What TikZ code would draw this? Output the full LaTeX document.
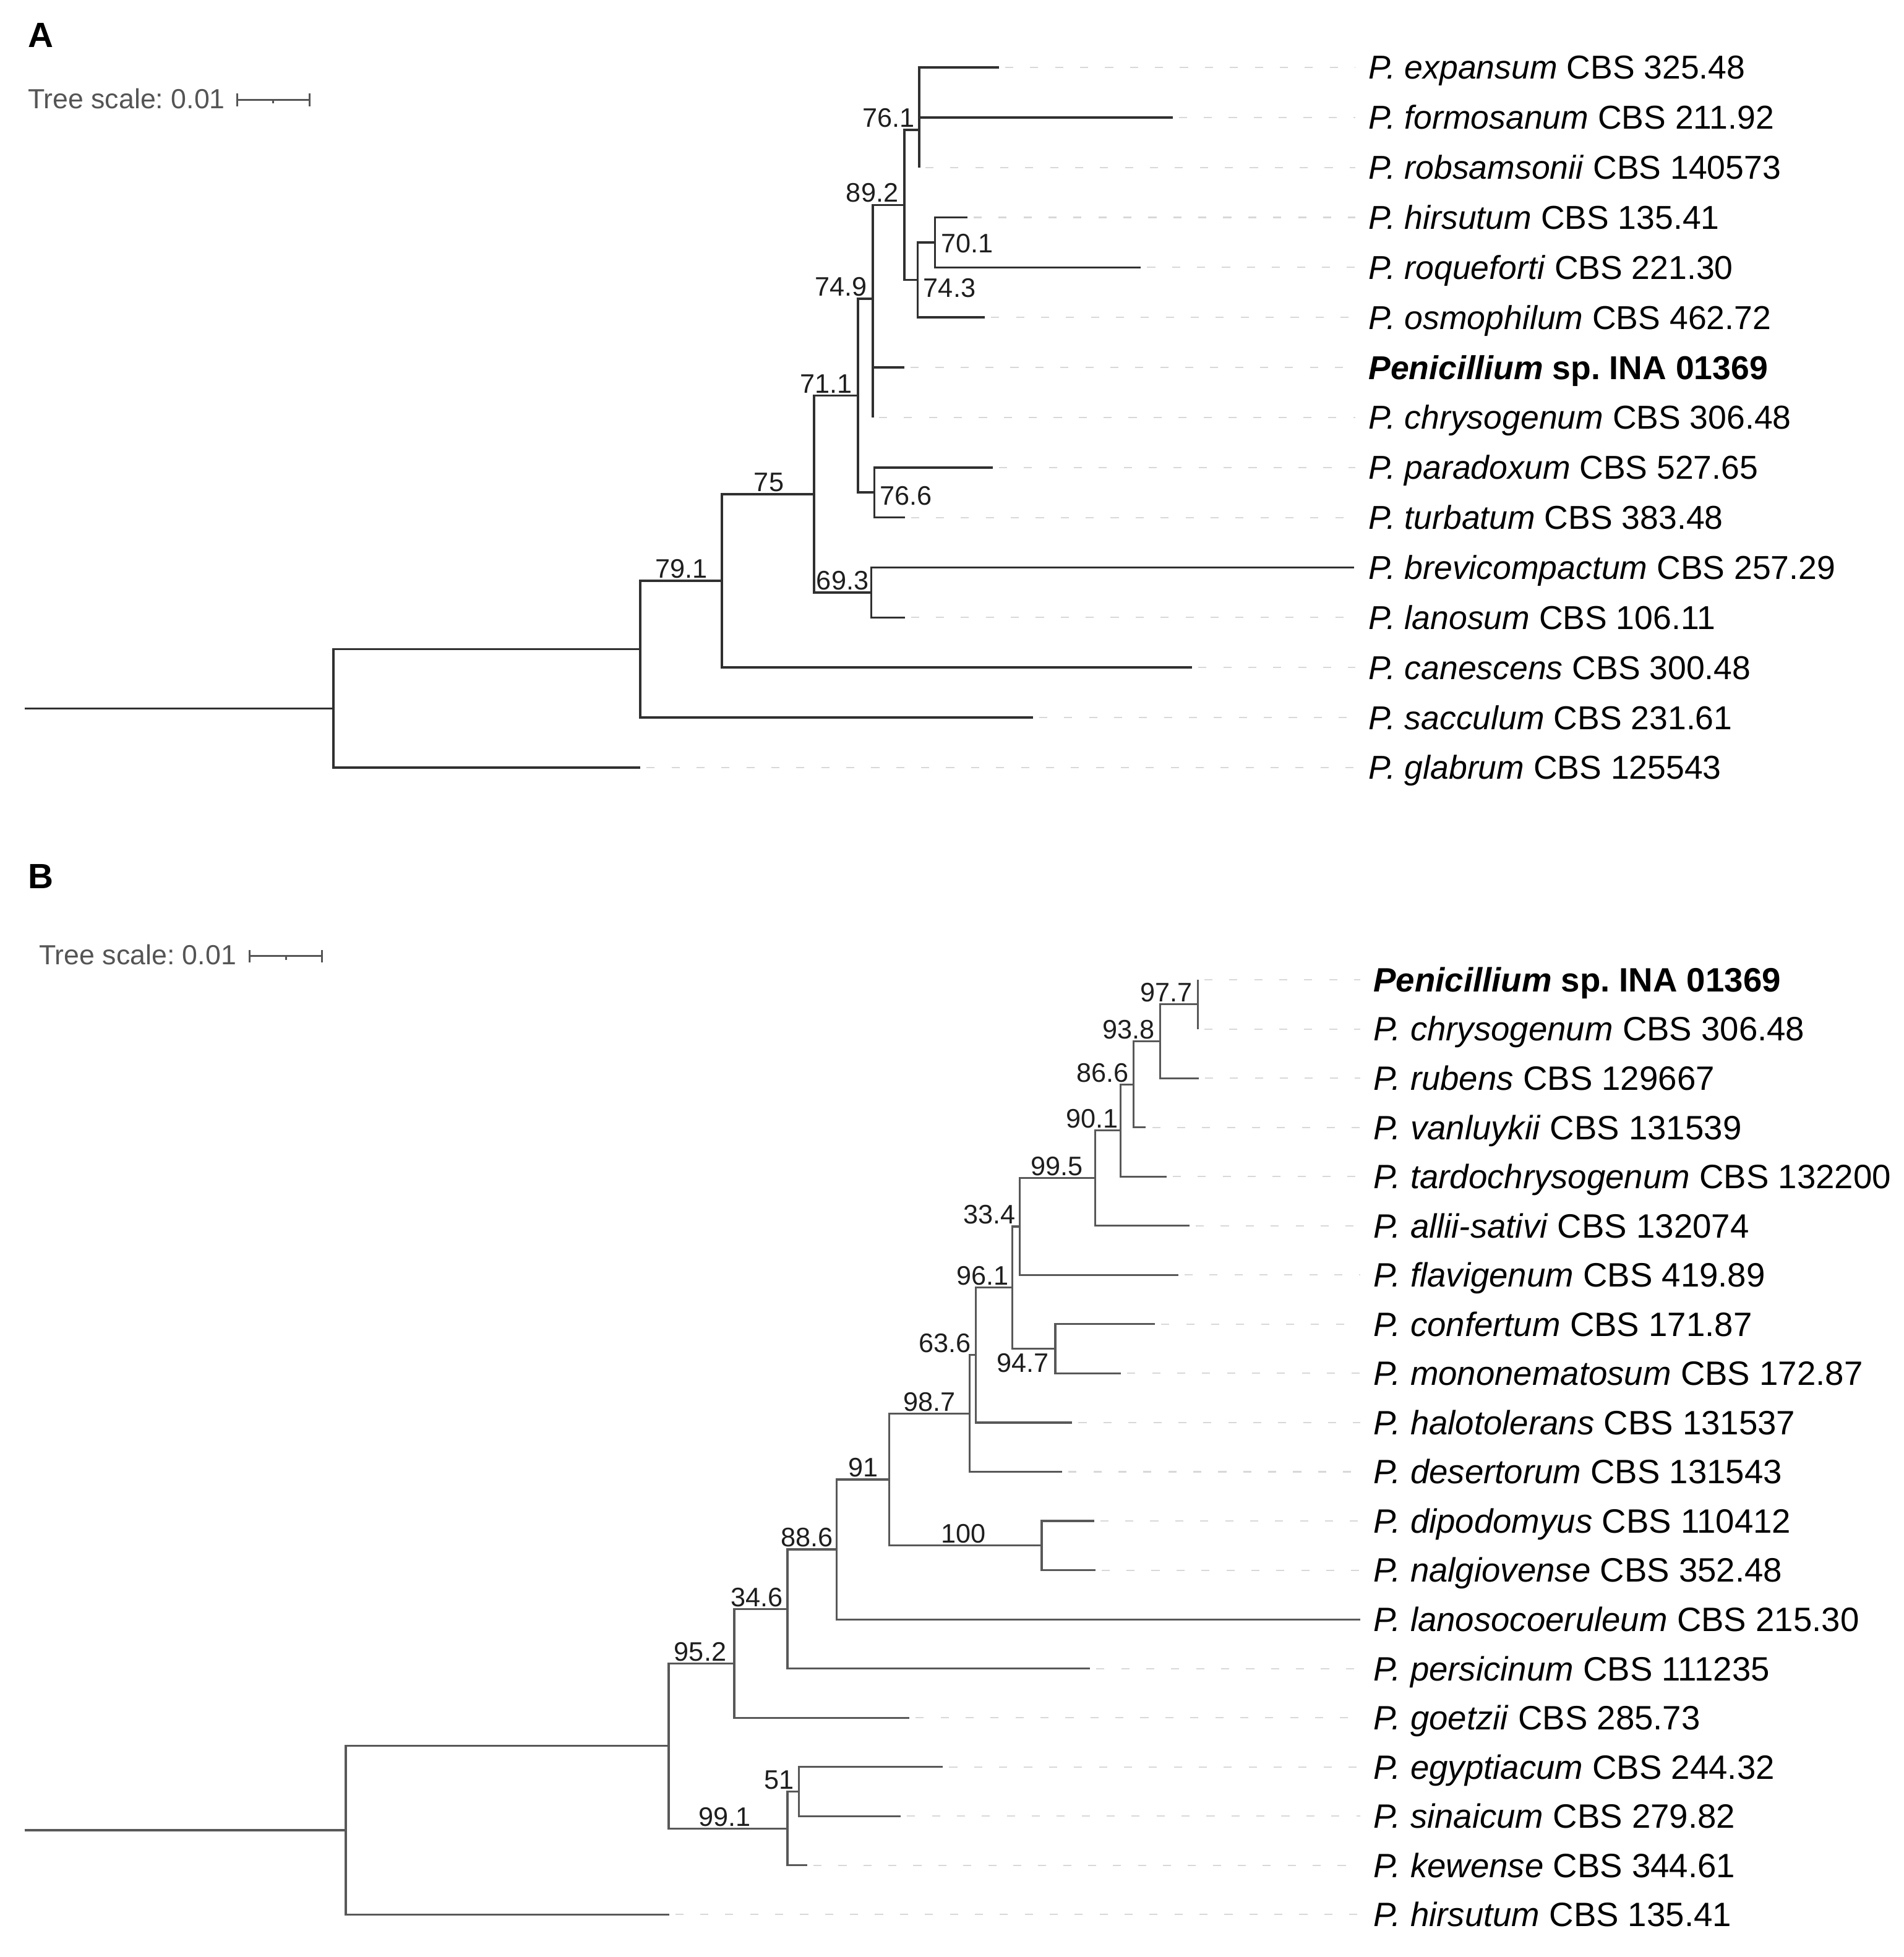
\documentclass[tikz,border=0pt]{standalone}
\usepackage{fontspec}
\setmainfont{Liberation Sans}
\usetikzlibrary{calc}
\definecolor{brAc}{HTML}{303030}
\definecolor{brBc}{HTML}{585858}
\definecolor{leadc}{HTML}{D8D8D8}
\definecolor{sclc}{HTML}{555555}
\definecolor{supc}{HTML}{1E1E1E}
\frenchspacing
\begin{document}
\begin{tikzpicture}[x=0.02cm,y=-0.02cm,
  brA/.style={draw=brAc, line width=1pt},
  brB/.style={draw=brBc, line width=0.9pt},
  lead/.style={draw=leadc, line width=0.6pt, dash pattern=on 0.13cm off 0.27cm},
  leafA/.style={anchor=base west, inner sep=0pt, font=\fontsize{15.1}{18}\selectfont},
  leafB/.style={anchor=base west, inner sep=0pt, font=\fontsize{15.4}{18}\selectfont},
  sup/.style={inner sep=0pt, text=supc, font=\fontsize{12.2}{14}\selectfont},
  scaletxt/.style={anchor=base west, inner sep=0pt, text=sclc, font=\fontsize{12.6}{15}\selectfont},
  sclbar/.style={draw=sclc, line width=0.8pt},
  panel/.style={anchor=base west, inner sep=0pt, font=\fontsize{16}{19}\selectfont\bfseries}]

\fill[white] (0,0) rectangle (1525,1568);
\useasboundingbox (0,0) rectangle (1525,1568);

%================ PANEL A ================
\node[panel] (pA) at (22,38) {A};
\node[scaletxt] (tsA) at (22,87) {Tree scale: 0.01};
\coordinate (sA1) at (190,80); \coordinate (sA2) at (248,80); \coordinate (sAm) at (219,80);
\draw[sclbar] (sA1) -- (sA2);
\draw[sclbar] ($(sA1)+(0,-5)$) -- ($(sA1)+(0,5)$);
\draw[sclbar] ($(sA2)+(0,-5)$) -- ($(sA2)+(0,5)$);
\draw[sclbar] (sAm) -- ($(sAm)+(0,3)$);

\foreach \i/\tx/\lab in {
 1/800.3/{\textit{P. expansum} CBS 325.48},
 2/939.4/{\textit{P. formosanum} CBS 211.92},
 3/736.3/{\textit{P. robsamsonii} CBS 140573},
 4/775/{\textit{P. hirsutum} CBS 135.41},
 5/914/{\textit{P. roqueforti} CBS 221.30},
 6/789/{\textit{P. osmophilum} CBS 462.72},
 7/724.5/{\textbf{\textit{Penicillium} sp. INA 01369}},
 8/699.2/{\textit{P. chrysogenum} CBS 306.48},
 9/795.3/{\textit{P. paradoxum} CBS 527.65},
 10/724.8/{\textit{P. turbatum} CBS 383.48},
 11/1085/{\textit{P. brevicompactum} CBS 257.29},
 12/724.8/{\textit{P. lanosum} CBS 106.11},
 13/955/{\textit{P. canescens} CBS 300.48},
 14/827.5/{\textit{P. sacculum} CBS 231.61},
 15/513/{\textit{P. glabrum} CBS 125543}} {
  \pgfmathsetmacro\yy{54+(\i-1)*40.07}
  \pgfmathsetmacro\yb{\yy+9.4}
  \coordinate (a\i) at (\tx,\yy);
  \node[leafA] (la\i) at (1096,\yb) {\lab};
}
\coordinate (eA) at (1086,0);
\foreach \i in {1,2,3,4,5,6,7,8,9,10,12,13,14,15}
  \draw[lead] ([xshift=0.1cm]a\i) -- (a\i -| eA);

\coordinate (aef) at (736.3,74.05);
\coordinate (n761) at (736.3,104.1);
\coordinate (n701) at (749,194.25);
\coordinate (n743) at (735.1,224.3);
\coordinate (n892) at (724.5,164.2);
\coordinate (apc) at (699.2,314.45);
\coordinate (n749) at (699.2,239.3);
\coordinate (n766) at (700.4,394.6);
\coordinate (n711) at (687.3,316.97);
\coordinate (n693) at (697.9,474.75);
\coordinate (n75) at (652.2,395.9);
\coordinate (n791) at (578.4,465.3);
\coordinate (nA1) at (513,520.1);
\coordinate (rA) at (267,567.6);
\coordinate (rA0) at (20,567.6);

\draw[brA] (rA0) -- (rA);
\draw[brA] (rA) |- (nA1);  \draw[brA] (rA) |- (a15);
\draw[brA] (nA1) |- (n791); \draw[brA] (nA1) |- (a14);
\draw[brA] (n791) |- (n75); \draw[brA] (n791) |- (a13);
\draw[brA] (n75) |- (n711); \draw[brA] (n75) |- (n693);
\draw[brA] (n693) |- (a11); \draw[brA] (n693) |- (a12);
\draw[brA] (n711) |- (n749); \draw[brA] (n711) |- (n766);
\draw[brA] (n766) |- (a9); \draw[brA] (n766) |- (a10);
\draw[brA] (n749) |- (n892); \draw[brA] (n749) |- (apc);
\draw[brA] (apc) |- (a7); \draw[brA] (apc) |- (a8);
\draw[brA] (n892) |- (n761); \draw[brA] (n892) |- (n743);
\draw[brA] (n743) |- (n701); \draw[brA] (n743) |- (a6);
\draw[brA] (n701) |- (a4); \draw[brA] (n701) |- (a5);
\draw[brA] (n761) |- (aef); \draw[brA] (n761) |- (a3);
\draw[brA] (aef) |- (a1); \draw[brA] (aef) |- (a2);

\node[sup, anchor=base east] (s761) at (733,102) {76.1};
\node[sup, anchor=base east] (s892) at (720,162) {89.2};
\node[sup, anchor=base east] (s749) at (695,237.3) {74.9};
\node[sup, anchor=base east] (s711) at (683,315) {71.1};
\node[sup, anchor=base] (s75) at (616,393.9) {75};
\node[sup, anchor=base] (s791) at (545.7,463.3) {79.1};
\node[sup, anchor=base west] (s701) at (753.5,202.5) {70.1};
\node[sup, anchor=base west] (s743) at (739.5,238) {74.3};
\node[sup, anchor=base west] (s766) at (704.5,404.5) {76.6};
\node[sup, anchor=base] (s693) at (675,472.7) {69.3};

%================ PANEL B ================
\node[panel] (pB) at (22,712) {B};
\node[scaletxt] (tsB) at (31,773) {Tree scale: 0.01};
\coordinate (sB1) at (200,766); \coordinate (sB2) at (258,766); \coordinate (sBm) at (229,766);
\draw[sclbar] (sB1) -- (sB2);
\draw[sclbar] ($(sB1)+(0,-5)$) -- ($(sB1)+(0,5)$);
\draw[sclbar] ($(sB2)+(0,-5)$) -- ($(sB2)+(0,5)$);
\draw[sclbar] (sBm) -- ($(sBm)+(0,3)$);

\foreach \i/\tx/\lab in {
 1/959.8/{\textbf{\textit{Penicillium} sp. INA 01369}},
 2/959.8/{\textit{P. chrysogenum} CBS 306.48},
 3/960.3/{\textit{P. rubens} CBS 129667},
 4/918/{\textit{P. vanluykii} CBS 131539},
 5/934.5/{\textit{P. tardochrysogenum} CBS 132200},
 6/953/{\textit{P. allii-sativi} CBS 132074},
 7/944/{\textit{P. flavigenum} CBS 419.89},
 8/925.3/{\textit{P. confertum} CBS 171.87},
 9/898/{\textit{P. mononematosum} CBS 172.87},
 10/859/{\textit{P. halotolerans} CBS 131537},
 11/851/{\textit{P. desertorum} CBS 131543},
 12/876.5/{\textit{P. dipodomyus} CBS 110412},
 13/877.5/{\textit{P. nalgiovense} CBS 352.48},
 14/1090/{\textit{P. lanosocoeruleum} CBS 215.30},
 15/873.3/{\textit{P. persicinum} CBS 111235},
 16/728.6/{\textit{P. goetzii} CBS 285.73},
 17/755.4/{\textit{P. egyptiacum} CBS 244.32},
 18/721.6/{\textit{P. sinaicum} CBS 279.82},
 19/646.7/{\textit{P. kewense} CBS 344.61},
 20/536/{\textit{P. hirsutum} CBS 135.41}} {
  \pgfmathsetmacro\yy{785+(\i-1)*39.42}
  \pgfmathsetmacro\yb{\yy+9.6}
  \coordinate (b\i) at (\tx,\yy);
  \node[leafB] (lb\i) at (1100,\yb) {\lab};
}
\coordinate (eB) at (1090,0);
\foreach \i in {1,2,3,4,5,6,7,8,9,10,11,12,13,15,16,17,18,19,20}
  \draw[lead] ([xshift=0.1cm]b\i) -- (b\i -| eB);

\coordinate (n977) at (959.8,804.7);
\coordinate (n938) at (929.3,834.3);
\coordinate (n866) at (908.1,868.8);
\coordinate (n901) at (897.7,905.7);
\coordinate (n995) at (877.6,943.9);
\coordinate (n334) at (817.1,982.7);
\coordinate (n947) at (845.4,1080.6);
\coordinate (n961) at (810.9,1031.7);
\coordinate (n636) at (781.7,1085.7);
\coordinate (n987) at (776.9,1132.5);
\coordinate (n100) at (834.5,1238.3);
\coordinate (n91) at (712.4,1185.4);
\coordinate (n886) at (670.4,1241.4);
\coordinate (n346) at (630.9,1289.2);
\coordinate (n952) at (588.2,1332.7);
\coordinate (n51) at (640.1,1435.4);
\coordinate (n991) at (630.9,1465);
\coordinate (nB1) at (535.7,1398.9);
\coordinate (rB) at (277,1466.4);
\coordinate (rB0) at (20,1466.4);

\draw[brB] (rB0) -- (rB);
\draw[brB] (rB) |- (nB1); \draw[brB] (rB) |- (b20);
\draw[brB] (nB1) |- (n952); \draw[brB] (nB1) |- (n991);
\draw[brB] (n991) |- (n51); \draw[brB] (n991) |- (b19);
\draw[brB] (n51) |- (b17); \draw[brB] (n51) |- (b18);
\draw[brB] (n952) |- (n346); \draw[brB] (n952) |- (b16);
\draw[brB] (n346) |- (n886); \draw[brB] (n346) |- (b15);
\draw[brB] (n886) |- (n91); \draw[brB] (n886) |- (b14);
\draw[brB] (n91) |- (n987); \draw[brB] (n91) |- (n100);
\draw[brB] (n100) |- (b12); \draw[brB] (n100) |- (b13);
\draw[brB] (n987) |- (n636); \draw[brB] (n987) |- (b11);
\draw[brB] (n636) |- (n961); \draw[brB] (n636) |- (b10);
\draw[brB] (n961) |- (n334); \draw[brB] (n961) |- (n947);
\draw[brB] (n947) |- (b8); \draw[brB] (n947) |- (b9);
\draw[brB] (n334) |- (n995); \draw[brB] (n334) |- (b7);
\draw[brB] (n995) |- (n901); \draw[brB] (n995) |- (b6);
\draw[brB] (n901) |- (n866); \draw[brB] (n901) |- (b5);
\draw[brB] (n866) |- (n938); \draw[brB] (n866) |- (b4);
\draw[brB] (n938) |- (n977); \draw[brB] (n938) |- (b3);
\draw[brB] (n977) |- (b1); \draw[brB] (n977) |- (b2);

\node[sup, anchor=base east] (t977) at (955.5,802.7) {97.7};
\node[sup, anchor=base east] (t938) at (925.5,832.3) {93.8};
\node[sup, anchor=base east] (t866) at (904.5,866.8) {86.6};
\node[sup, anchor=base east] (t901) at (896,903.7) {90.1};
\node[sup, anchor=base] (t995) at (846.5,941.9) {99.5};
\node[sup, anchor=base east] (t334) at (814,980.7) {33.4};
\node[sup, anchor=base east] (t961) at (808.5,1029.7) {96.1};
\node[sup, anchor=base east] (t947) at (840.5,1099.5) {94.7};
\node[sup, anchor=base east] (t636) at (778,1083.7) {63.6};
\node[sup, anchor=base] (t987) at (744.6,1130.5) {98.7};
\node[sup, anchor=base] (t91) at (691.4,1183.4) {91};
\node[sup, anchor=base] (t100) at (772,1236.3) {100};
\node[sup, anchor=base east] (t886) at (667.5,1239.4) {88.6};
\node[sup, anchor=base east] (t346) at (627.5,1287.2) {34.6};
\node[sup, anchor=base] (t952) at (561,1330.7) {95.2};
\node[sup, anchor=base east] (t51) at (636.5,1433.4) {51};
\node[sup, anchor=base] (t991) at (580.5,1463) {99.1};
\end{tikzpicture}
\end{document}
